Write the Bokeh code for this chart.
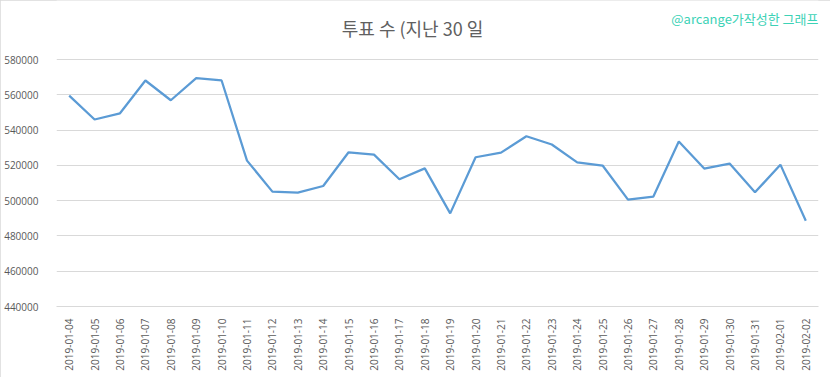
from bokeh.plotting import figure
from bokeh.models import FactorRange, Range1d, FixedTicker, BasicTickFormatter, Label, ColumnDataSource
from bokeh.embed import file_html
from bokeh.resources import INLINE
import math

dates = ["2019-01-04", "2019-01-05", "2019-01-06", "2019-01-07", "2019-01-08", "2019-01-09",
         "2019-01-10", "2019-01-11", "2019-01-12", "2019-01-13", "2019-01-14", "2019-01-15",
         "2019-01-16", "2019-01-17", "2019-01-18", "2019-01-19", "2019-01-20", "2019-01-21",
         "2019-01-22", "2019-01-23", "2019-01-24", "2019-01-25", "2019-01-26", "2019-01-27",
         "2019-01-28", "2019-01-29", "2019-01-30", "2019-01-31", "2019-02-01", "2019-02-02"]
votes = [559500, 546000, 549500, 568100, 556900, 569400, 568100, 522700, 505100, 504500,
         508300, 527400, 526100, 512100, 518300, 492800, 524600, 527200, 536500, 531800,
         521700, 519900, 500600, 502300, 533500, 518200, 521000, 504700, 520400, 488600]
y_ticks = [440000, 460000, 480000, 500000, 520000, 540000, 560000, 580000]
title_text = "투표 수 (지난 30 일"
credit_text = "@arcange가작성한 그래프"

W, H = 830, 377
FRAME_L, FRAME_R, FRAME_B = 56, 818, 306
GRID_TOP = 59  # pixel row of the top tick
y_min, y_top_tick = y_ticks[0], y_ticks[-1]
per_px = (y_top_tick - y_min) / (FRAME_B - GRID_TOP)
y_max = y_min + FRAME_B * per_px  # frame extends to the top of the canvas

src = ColumnDataSource(dict(d=dates, v=votes))

p = figure(width=W, height=H, x_range=FactorRange(factors=dates),
           y_range=Range1d(y_min, y_max),
           output_backend="svg", toolbar_location=None, title=None,
           min_border_left=FRAME_L, min_border_right=W - FRAME_R,
           min_border_top=0, min_border_bottom=H - FRAME_B)
p.styles = {"outline": "1px solid #d9d9d9", "outline-offset": "-1px"}
p.outline_line_color = None
p.background_fill_color = "white"
p.border_fill_color = "white"

p.line("d", "v", source=src, line_color="#5b9bd5", line_width=2.25)

# y axis
p.yaxis.ticker = FixedTicker(ticks=y_ticks)
p.yaxis.formatter = BasicTickFormatter(use_scientific=False)
p.yaxis.axis_line_color = None
p.yaxis.major_tick_line_color = None
p.yaxis.minor_tick_line_color = None
p.yaxis.major_label_standoff = 12
p.yaxis.major_label_text_font = "Open Sans"
p.yaxis.major_label_text_font_size = "10px"
p.yaxis.major_label_text_color = "#595959"

# x axis
p.xaxis.axis_line_color = "#d9d9d9"
p.xaxis.major_tick_line_color = None
p.xaxis.minor_tick_line_color = None
p.xaxis.major_label_orientation = math.pi / 2
p.xaxis.major_label_standoff = 6
p.xaxis.major_label_text_font = "Open Sans"
p.xaxis.major_label_text_font_size = "10px"
p.xaxis.major_label_text_color = "#595959"

p.xgrid.grid_line_color = None
p.ygrid.grid_line_color = "#d9d9d9"
p.ygrid.grid_line_width = 1

p.add_layout(Label(x=356, y=FRAME_B - 27, x_units="screen", y_units="screen", text=title_text,
                   text_align="center", text_baseline="middle", text_font="Noto Sans CJK KR",
                   text_font_size="18px", text_color="#606060"))
p.add_layout(Label(x=FRAME_R - FRAME_L, y=FRAME_B - 18, x_units="screen", y_units="screen",
                   text=credit_text, text_align="right", text_baseline="middle",
                   text_font="Noto Sans CJK KR", text_font_size="13px", text_color="#3cd2b6"))

open("out.html", "w").write(file_html(p, INLINE))
